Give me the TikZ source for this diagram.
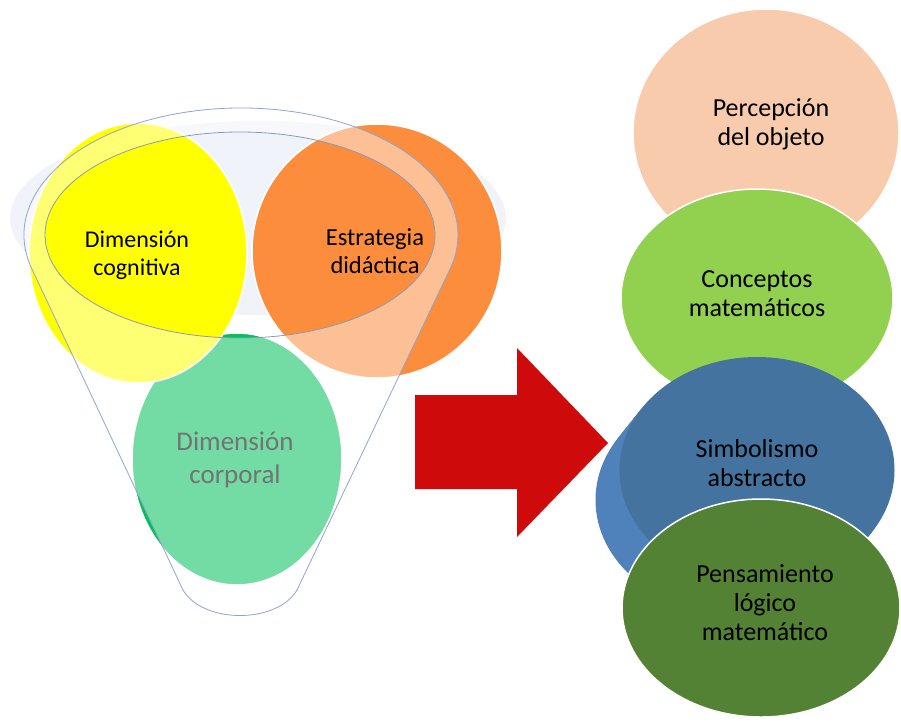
\documentclass[tikz,border=0pt]{standalone}
\usepackage{fontspec}
\setmainfont{Carlito}
\usetikzlibrary{shapes.geometric}
\definecolor{pale}{HTML}{F0F4FA}
\definecolor{yel}{HTML}{FFFF00}
\definecolor{org}{HTML}{FB8D3D}
\definecolor{grn}{HTML}{00C15A}
\definecolor{peach}{HTML}{F8CBAD}
\definecolor{lgreen}{HTML}{92D050}
\definecolor{bluemain}{HTML}{44739F}
\definecolor{blueside}{HTML}{4F81BA}
\definecolor{dgreen}{HTML}{548235}
\definecolor{arrowred}{HTML}{CE0A0A}
\definecolor{funnelline}{HTML}{8EA4D2}
\definecolor{mouthline}{HTML}{8C99B8}
\begin{document}
\begin{tikzpicture}[x=1pt,y=-1pt,
  blob/.style={ellipse, inner sep=0pt, outer sep=0pt, draw=white, line width=1.5pt},
  plainblob/.style={ellipse, inner sep=0pt, outer sep=0pt},
  lbl/.style={align=center, inner sep=0pt, text=black},
  leftfont/.style={font=\fontsize{24}{28}\selectfont},
  rightfont/.style={font=\fontsize{26}{29}\selectfont},
]
\useasboundingbox (0,0) rectangle (901,721);
\fill[white] (0,0) rectangle (901,721);

% ---------- left: funnel ----------
\node[plainblob, fill=pale, minimum width=496pt, minimum height=194pt] (halo) at (258,218) {};
\node[blob, fill=grn, minimum width=210pt, minimum height=252pt] (corp) at (237,459) {};
\node[blob, fill=yel, minimum width=218pt, minimum height=260pt] (cogn) at (138,253) {};
\node[blob, fill=org, minimum width=250pt, minimum height=254pt] (estr) at (377,251) {};
\node[lbl, font=\fontsize{27}{33}\selectfont] (corpT) at (235,460) {Dimensión\\corporal};

% translucent funnel body (minus the mouth)
\fill[white, fill opacity=0.45, even odd rule]
  (31,267) arc[start angle=165.4, end angle=374.6, x radius=217, y radius=127]
  -- (297,590) .. controls (277,624) and (203,624) .. (183,590) -- cycle
  (240,235) ellipse [x radius=195, y radius=103];
\draw[funnelline, line width=0.8pt]
  (31,267) arc[start angle=165.4, end angle=374.6, x radius=217, y radius=127]
  -- (297,590) .. controls (277,624) and (203,624) .. (183,590) -- cycle;
\draw[mouthline, line width=0.8pt] (240,235) ellipse [x radius=195, y radius=103];

\node[lbl, leftfont] (cognT) at (137,255) {Dimensión\\cognitiva};
\node[lbl, font=\fontsize{24.5}{28}\selectfont] (estrT) at (375,251) {Estrategia\\didáctica};

% ---------- arrow ----------
\fill[arrowred] (415,395) -- (517,395) -- (517,348) -- (608,443) -- (517,537) -- (517,489) -- (415,489) -- cycle;

% ---------- right: stacked ellipses ----------
\node[blob, fill=peach, minimum width=266pt, minimum height=248pt] (perc) at (766,133) {};
\node[blob, fill=lgreen, minimum width=272pt, minimum height=218pt] (conc) at (757,298) {};
\foreach \i in {8,7,...,1}
  \fill[blueside] (757-3*\i, 470+3.75*\i) ellipse [x radius=137.5, y radius=113];
\node[plainblob, fill=bluemain, minimum width=275pt, minimum height=226pt] (simb) at (757,470) {};
\node[blob, fill=dgreen, minimum width=278pt, minimum height=218pt] (pens) at (761,608) {};

\node[lbl, rightfont] (percT) at (771,124.5) {Percepción\\del objeto};
\node[lbl, rightfont] (concT) at (757,294) {Conceptos\\matemáticos};
\node[lbl, rightfont] (simbT) at (757,463.4) {Simbolismo\\abstracto};
\node[lbl, rightfont] (pensT) at (765,602.5) {Pensamiento\\lógico\\matemático};
\end{tikzpicture}
\end{document}
